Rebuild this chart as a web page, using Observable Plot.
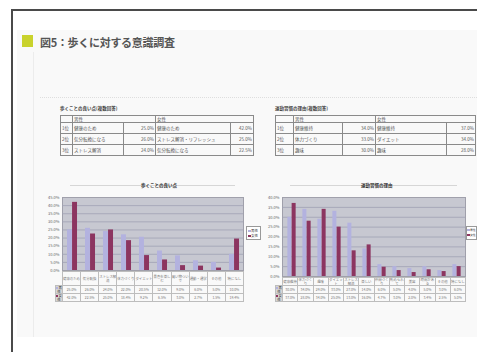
<!DOCTYPE html>
<html><head><meta charset="utf-8">
<script src="https://cdn.jsdelivr.net/npm/d3@7"></script>
<script src="https://cdn.jsdelivr.net/npm/@observablehq/plot@0.6"></script>
<style>
html,body{margin:0;padding:0;background:#fff;}
body{width:477px;height:352px;overflow:hidden;font-family:"Noto Sans CJK JP","Noto Sans",sans-serif;}
#page{position:relative;width:477px;height:352px;overflow:hidden;}
.abs{position:absolute;}
table.t{border-collapse:collapse;table-layout:fixed;font-size:4.5px;color:#555;line-height:1;}
table.t td{border:1px solid #8a8a8a;padding:0 1px;overflow:hidden;white-space:nowrap;}
table.dt{border-collapse:collapse;table-layout:fixed;font-size:3.4px;color:#777;line-height:1.05;}
table.dt td{border:1px solid #bdbdbd;padding:0;overflow:hidden;text-align:center;vertical-align:middle;}
.cap{font-size:4.5px;color:#444;font-weight:bold;white-space:nowrap;}
.ctitle{font-size:4.5px;color:#333;font-weight:bold;white-space:nowrap;}
</style></head>
<body><div id="page">
  <div class="abs" style="left:11px;top:9px;width:480px;height:360px;border-left:2px solid #4a4a4a;border-top:2px solid #4a4a4a;"></div>
  <div class="abs" style="left:17px;top:30px;width:460px;height:307px;background:#f9f9f9;"></div>
  <div class="abs" style="left:33px;top:52px;width:1px;height:285px;background:#ececec;"></div>
  <div class="abs" style="left:22px;top:35px;width:11px;height:12px;background:#c9d22c;"></div>
  <div class="abs" id="title" style="left:40px;top:34px;font-size:11px;color:#555;font-weight:bold;white-space:nowrap;letter-spacing:-0.3px;"></div>
  <div class="abs" style="left:40px;top:97px;width:437px;border-top:1px dotted #dedede;"></div>
  <div id="tables"></div>
  <div id="charts"></div>
</div>
<script>
// ---- text ----
const titleText = "図5：歩くに対する意識調査";
const seriesNames = ["男性", "女性"];

// ---- left table ----
const tableLCaption = "歩くことの良い点(複数回答)";
const tableLRanks = ["1位", "2位", "3位"];
const tableLMen = ["健康のため", "気分転換になる", "ストレス解消"];
const tableLMenPct = ["25.0%", "26.0%", "24.0%"];
const tableLWomen = ["健康のため", "ストレス解消・リフレッシュ", "気分転換になる"];
const tableLWomenPct = ["42.0%", "25.0%", "22.5%"];

// ---- right table ----
const tableRCaption = "運動習慣の理由(複数回答)";
const tableRRanks = ["1位", "2位", "3位"];
const tableRMen = ["健康維持", "体力づくり", "趣味"];
const tableRMenPct = ["34.0%", "33.0%", "30.0%"];
const tableRWomen = ["健康維持", "ダイエット", "趣味"];
const tableRWomenPct = ["37.0%", "34.0%", "28.0%"];

// ---- left chart ----
const chartLTitle = "歩くことの良い点";
const catsL = ["健康のため","気分転換","ストレス解消","体力づくり","ダイエット","景色を楽しむ","買い物ついで","通勤・通学","その他","特になし"];
const menL   = [25, 26, 24, 22, 20.5, 12, 9, 6, 5, 10];
const womenL = [42, 22.5, 25, 18.4, 9.2, 6.5, 3, 2.7, 1.5, 19.4];
const ticksL = [0, 5, 10, 15, 20, 25, 30, 35, 40, 45];

// ---- right chart ----
const chartRTitle = "運動習慣の理由";
const catsR = ["健康維持","体力づくり","趣味","ダイエット","ストレス解消","楽しい","仲間づくり","勧められて","美容","時間がある","その他","特になし"];
const menR   = [30, 34, 29, 33, 27, 14, 6, 5, 4, 5, 3, 6];
const womenR = [37, 28, 34, 25, 13, 16, 4.7, 3, 2, 3.4, 2.5, 5];
const ticksR = [0, 5, 10, 15, 20, 25, 30, 35, 40];

const colors = ["#b3b2df", "#8c3560"];

document.getElementById("title").textContent = titleText;

// ---- header tables ----
function headerTable(left, top, widths, caption, ranks, men, menPct, women, womenPct, total) {
  const wrap = document.createElement("div");
  wrap.className = "abs"; wrap.style.left = left + "px"; wrap.style.top = (top - 10) + "px";
  const cap = document.createElement("div"); cap.className = "cap"; cap.textContent = caption;
  cap.style.marginBottom = "4px";
  wrap.appendChild(cap);
  const t = document.createElement("table"); t.className = "t";
  t.style.width = total + "px";
  const cg = document.createElement("colgroup");
  widths.forEach(w => { const c = document.createElement("col"); c.style.width = w + "px"; cg.appendChild(c); });
  t.appendChild(cg);
  const h = t.insertRow(); h.style.height = "7px";
  h.insertCell().textContent = "";
  let c = h.insertCell(); c.colSpan = 2; c.textContent = seriesNames[0];
  c = h.insertCell(); c.colSpan = 2; c.textContent = seriesNames[1];
  ranks.forEach((r, i) => {
    const row = t.insertRow(); row.style.height = "11px";
    row.insertCell().textContent = r;
    row.insertCell().textContent = men[i];
    let p = row.insertCell(); p.textContent = menPct[i]; p.style.textAlign = "right";
    row.insertCell().textContent = women[i];
    p = row.insertCell(); p.textContent = womenPct[i]; p.style.textAlign = "right";
  });
  wrap.appendChild(t);
  document.getElementById("tables").appendChild(wrap);
}
headerTable(60, 115, [12, 51, 32, 75, 23], tableLCaption, tableLRanks, tableLMen, tableLMenPct, tableLWomen, tableLWomenPct, 193);
headerTable(275, 115, [18, 49, 33, 71, 29], tableRCaption, tableRRanks, tableRMen, tableRMenPct, tableRWomen, tableRWomenPct, 200);

// ---- charts ----
function chart(cfg) {
  const {cats, s1, s2, ticks, left, top, width, height, mt, mb, ml, mr} = cfg;
  const plotW = width - ml - mr;
  const bw = plotW / cats.length;
  const barW = Math.max(4, bw * 0.28);
  const d1 = cats.map((c, i) => ({cat: c, v: s1[i]}));
  const d2 = cats.map((c, i) => ({cat: c, v: s2[i]}));
  const svg = Plot.plot({
    width, height, marginTop: mt, marginBottom: mb, marginLeft: ml, marginRight: mr,
    style: {fontSize: "4px", color: "#666", background: "transparent", fontFamily: "'Noto Sans CJK JP', sans-serif"},
    x: {domain: cats, padding: 0, axis: null},
    y: {domain: [ticks[0], ticks[ticks.length - 1]], ticks: ticks, tickFormat: d => d.toFixed(1) + "%", tickSize: 0, tickPadding: 3, label: null},
    marks: [
      Plot.frame({fill: "#c7c8d1", stroke: "#a0a0ab"}),
      Plot.ruleY(ticks.slice(1, -1), {stroke: "#9fa1b4", strokeWidth: 0.8}),
      Plot.barY(d1, {x: "cat", y: "v", fill: colors[0], insetLeft: bw / 2 - barW, insetRight: bw / 2}),
      Plot.barY(d2, {x: "cat", y: "v", fill: colors[1], insetLeft: bw / 2, insetRight: bw / 2 - barW})
    ]
  });
  svg.style.position = "absolute";
  svg.style.left = left + "px";
  svg.style.top = top + "px";
  document.getElementById("charts").appendChild(svg);

  // chart title
  const t = document.createElement("div");
  t.className = "abs ctitle"; t.textContent = cfg.title;
  t.style.left = cfg.titleX + "px"; t.style.top = cfg.titleY + "px";
  document.getElementById("charts").appendChild(t);
  const ln = document.createElement("div");
  ln.className = "abs";
  ln.style.cssText = `left:${left + ml + 8}px;top:${cfg.titleY + 3}px;width:${plotW - 16}px;border-top:1px solid #d6d6d6;`;
  document.getElementById("charts").insertBefore(ln, t);

  // data table under the chart
  const tbl = document.createElement("table"); tbl.className = "abs dt";
  tbl.style.left = (left + ml - cfg.keyW) + "px";
  tbl.style.top = (top + height - mb + 1) + "px";
  tbl.style.width = (plotW + cfg.keyW) + "px";
  const cg = document.createElement("colgroup");
  const c0 = document.createElement("col"); c0.style.width = cfg.keyW + "px"; cg.appendChild(c0);
  cats.forEach(() => { const c = document.createElement("col"); c.style.width = bw + "px"; cg.appendChild(c); });
  tbl.appendChild(cg);
  const hr = tbl.insertRow(); hr.style.height = cfg.labelH + "px";
  const e = hr.insertCell(); e.style.border = "none";
  cats.forEach(c => { const td = hr.insertCell(); td.textContent = c; td.style.whiteSpace = "normal"; td.style.wordBreak = "break-all"; });
  [[s1, 0], [s2, 1]].forEach(([vals, k]) => {
    const r = tbl.insertRow(); r.style.height = cfg.rowH + "px";
    const key = r.insertCell();
    key.innerHTML = `<span style="display:inline-block;width:2px;height:2px;background:${colors[k]};margin-right:0.5px"></span>${seriesNames[k]}`;
    key.style.background = "#d5d5d5"; key.style.color = "#333";
    vals.forEach(v => { r.insertCell().textContent = v.toFixed(1) + "%"; });
  });
  document.getElementById("charts").appendChild(tbl);

  // legend
  const lg = document.createElement("div");
  lg.className = "abs";
  lg.style.cssText = `left:${cfg.legX}px;top:${cfg.legY}px;width:${cfg.legW}px;padding:${cfg.legPad};background:#fff;border:1px solid #999;font-size:${cfg.legFont}px;color:#333;line-height:5px;white-space:nowrap;overflow:hidden;`;
  lg.innerHTML = seriesNames.map((n, k) => `<div><span style="display:inline-block;width:2.5px;height:2.5px;background:${colors[k]};margin-right:0.5px"></span>${n}</div>`).join("");
  document.getElementById("charts").appendChild(lg);
}

chart({cats: catsL, s1: menL, s2: womenL, ticks: ticksL, title: chartLTitle,
  left: 40, top: 178, width: 223, height: 95, mt: 19, mb: 3, ml: 22, mr: 20,
  titleX: 141, titleY: 182, keyW: 7, labelH: 14, rowH: 8,
  legX: 246, legY: 226, legW: 11, legPad: "1px", legFont: 3.5});
chart({cats: catsR, s1: menR, s2: womenR, ticks: ticksR, title: chartRTitle,
  left: 260, top: 178, width: 210, height: 100, mt: 19, mb: 2, ml: 22, mr: 5,
  titleX: 361, titleY: 182, keyW: 7, labelH: 8, rowH: 7,
  legX: 466, legY: 226, legW: 8.5, legPad: "1px 0", legFont: 2.8});
</script>
</body></html>
